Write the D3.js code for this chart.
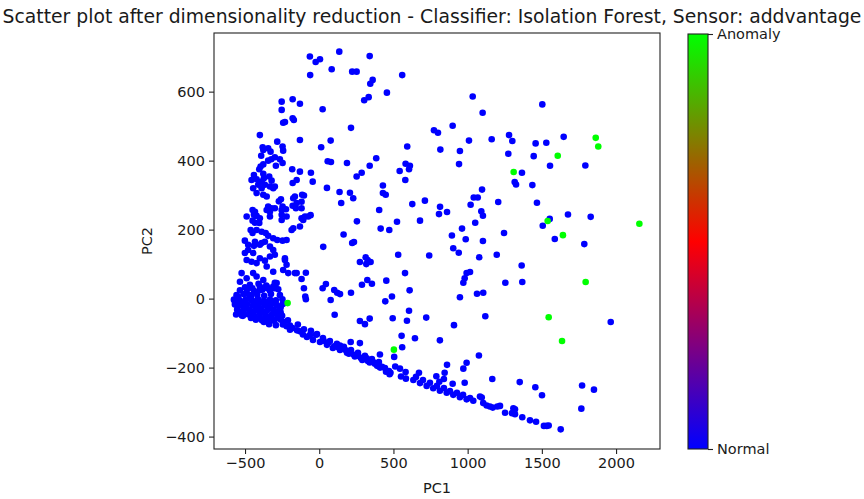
<!DOCTYPE html>
<html>
<head>
<meta charset="utf-8">
<script src="https://cdn.jsdelivr.net/npm/d3@7"></script>
<style>
  body { margin: 0; background: #fff; }
  svg { display: block; }
  text { font-family: "DejaVu Sans", sans-serif; fill: #1a1a1a; }
</style>
</head>
<body>
<svg id="chart" width="864" height="499"></svg>
<script>
// ---- chart text and ticks ----
const titleText = "Scatter plot after dimensionality reduction - Classifier: Isolation Forest, Sensor: addvantage";
const xLabel = "PC1";
const yLabel = "PC2";
const xTicks = [-500, 0, 500, 1000, 1500, 2000];
const yTicks = [-400, -200, 0, 200, 400, 600];
const colorbarTicks = [0, 1];
const colorbarLabels = ["Normal", "Anomaly"];

// ---- PCA projection, normal samples (label 0) ----
const normalSpread = [
  [-63,702],[-24,686],[5,694],[135,716],[340,703],[-61,648],[84,665],[222,658],[252,658],[360,634],
  [344,623],[559,648],[456,597],[303,575],[333,584],[-130,565],[23,549],[1034,586],[1101,539],[214,495],
  [773,488],[800,481],[899,501],[1009,458],[1162,462],[-130,460],[13,439],[77,458],[593,441],[816,432],
  [948,428],[942,390],[57,398],[79,396],[187,393],[384,407],[340,385],[582,391],[611,385],[605,375],
  [542,370],[580,344],[-130,368],[-56,365],[-44,339],[252,354],[286,365],[52,321],[137,309],[148,277],
  [207,307],[229,291],[429,328],[429,306],[448,301],[-103,299],[-119,262],[-119,233],[-96,238],[-58,242],
  [404,257],[627,274],[712,284],[814,266],[807,245],[861,251],[1020,272],[1041,293],[1068,293],[1097,316],
  [1092,253],[1103,240],[1051,220],[1206,280],[254,224],[524,223],[679,226],[414,203],[472,199],[164,186],
  [222,161],[234,164],[27,150],[894,183],[962,203],[987,172],[1103,167],[903,146],
  [532,127],[741,125],[940,133],[1078,120],[1196,127],[274,106],[313,120],[326,112],[346,106],[317,100],
  [578,74],[993,74],[1016,77],[980,59],[971,46],[-90,75],[-119,57],[-103,30],[-94,6],[-90,-2],
  [23,30],[45,42],[101,25],[121,17],[140,13],[214,17],[288,40],[324,54],[355,43],[452,52],
  [609,24],[77,-4],[445,-8],[490,6],[1063,14],[1105,17],[948,4],[104,-47],[274,-65],[308,-74],
  [340,-58],[495,-57],[605,-35],[591,-64],[721,-55],[908,-77],[1119,-51],[555,-108],[645,-115],[813,-121],
  [212,-126],[274,-129],[559,-141],[505,-169],[409,-162],[1076,-165],[861,-192],[845,-215],[789,-225],[971,-203],
  [993,-186],[512,-197],[544,-203],[582,-213],[474,-219],[551,-226],[584,-232],[672,-215],[899,-247],[980,-244],
  [1166,-233],[840,-233],[809,-241],
  [1503,563],[1279,474],[1301,457],[1458,450],[1530,452],[1647,469],[1274,420],[1445,413],[1555,385],[1793,386],
  [1366,365],[1317,338],[1326,331],[1436,329],[1467,278],[1553,231],[1506,211],[1676,244],[1829,237],[1587,173],
  [1786,158],[1245,190],[1364,96],[1254,46],[1368,48],[1964,-68],[1351,-242],[1456,-257],[1501,-280],[1771,-252],
  [1851,-264],[1766,-319]
];

const normalLeft = [
  [-400,474],[-253,547],[-253,571],[-179,578],[-179,523],[-171,518],[-243,510],[-231,512],[-381,439],[-377,431],
  [-391,414],[-344,436],[-328,426],[-283,455],[-247,441],[-243,429],[-377,389],[-344,400],[-323,404],[-299,410],
  [-265,404],[-247,393],[-182,375],[-440,358],[-456,344],[-422,346],[-411,330],[-445,320],[-404,375],[-377,362],
  [-373,349],[-337,354],[-321,342],[-332,325],[-299,325],[-422,306],[-377,301],[-354,296],[-258,288],[-272,282],
  [-179,335],[-152,344],[-115,301],[-164,296],[-130,209],[-108,228],[-74,238],[-179,269],[-157,262],[-224,259],
  [-247,267],[-253,257],[-344,267],[-321,262],[-299,262],[-354,257],[-332,252],[-489,238],[-449,257],[-433,252],
  [-440,243],[-422,240],[-449,226],[-433,220],[-404,219],[-400,233],[-462,199],[-449,190],[-422,199],[-388,194],
  [-361,190],[-344,182],[-310,175],[-283,170],[-247,168],[-220,170],[-186,199],[-501,168],[-479,156],[-440,153],
  [-388,161],[-395,383],[-292,385],[-388,339],[-366,330],[-310,320],[-388,320],[-175,291],[-152,277],[-119,281],
  [-332,238],[-253,243],
  [-433,165],[-400,156],[-366,165],[-332,151],[-310,141],[-479,141],[-501,132],[-445,132],[-489,112],[-456,107],
  [-422,103],[-400,117],[-366,110],[-332,122],[-299,127],[-354,93],[-310,78],[-523,74],[-534,49],[-489,59],
  [-445,74],[-422,64],[-377,54],[-231,112],[-220,98],[-152,74],[-299,46],[-332,25],[-400,25],[-354,35],
  [-467,35],[-489,16],[-456,11],[-568,-9],[-557,-18],[-310,35],[-287,45],[-231,117],[-209,74],[-164,74],
  [-243,83],[-175,204],[-253,228],[-220,238]
];

const normalCluster = [
  [-467,40],[-409,43],[-357,38],[-297,41],
  [-534,24],[-486,27],[-438,22],[-384,26],[-332,23],[-276,27],
  [-557,10],[-510,13],[-467,9],[-418,12],[-371,8],[-325,13],[-265,10],
  [-575,-3],[-534,-6],[-494,-2],[-453,-5],[-413,-1],[-373,-6],[-332,-3],[-292,-5],[-248,-2],
  [-568,-17],[-527,-20],[-486,-16],[-446,-19],[-406,-15],[-366,-20],[-325,-17],[-285,-19],[-245,-16],
  [-553,-32],[-514,-35],[-473,-31],[-433,-34],[-393,-30],[-353,-35],[-312,-32],[-272,-34],
  [-560,-46],[-521,-49],[-480,-45],[-440,-48],[-400,-44],[-359,-49],[-319,-46],[-278,-48],
  [-514,-50],[-460,-56],[-427,-61],[-386,-63],[-346,-60],[-305,-64],[-258,-61],[-211,-63],
  [-373,-68],[-338,-74],[-292,-77],[-245,-75],[-197,-78],[-144,-75],
  [-197,-90],[-150,-92],[-103,-89],[-56,-93],
  [-110,-104],[-63,-106],[-15,-103],[-83,-111],[-42,-120],
  [-545,5],[-500,-10],[-460,2],[-420,-8],[-380,-12],[-340,-10],[-300,-12],
  [-540,-40],[-500,-26],[-460,-40],[-420,-25],[-380,-40],[-340,-24],[-300,-38],[-260,-26],
  [-440,-55],[-400,-55],[-360,-53],[-320,-56],[-280,-57],[-240,-68],[-220,-80],[-180,-85],[-130,-95],
  [-500,33],[-450,30],[-400,35],[-350,30],[-300,30],[-260,-40],[-250,-50]
];

const normalBand = [
  [-22,-105],[5,-126],[25,-114],[52,-134],[72,-123],[92,-143],[119,-131],[140,-149],[140,-136],[166,-140],
  [187,-157],[214,-149],[234,-163],[261,-157],[263,-166],[281,-172],[308,-166],[328,-181],[355,-175],[364,-184],
  [375,-189],[402,-184],[423,-198],[443,-201],[470,-210],
  [30,-122],[60,-128],[100,-138],[130,-142],[180,-150],[200,-160],[240,-168],[290,-178],[320,-173],[340,-185],
  [390,-195],[410,-200],[450,-212],[480,-215],
  [634,-236],[652,-227],[679,-245],[699,-236],[724,-253],[746,-244],[768,-260],[793,-253],[813,-267],[840,-259],
  [859,-273],[881,-268],[903,-279],[928,-273],[948,-286],[969,-279],[993,-292],[1016,-288],[1038,-296],[1083,-284],
  [1095,-287],[1105,-303],[1128,-310],[1150,-313],[1169,-316],[1200,-313],[1218,-311],[1252,-331],[1299,-332],[1308,-318],
  [1319,-321],[1319,-335],[1368,-344],[1420,-353],[1461,-357],[1514,-369],[1533,-369],[1546,-368],[1627,-379]
];

// ---- PCA projection, samples flagged as anomalies (label 1) ----
const anomalyPoints = [
  [-213,-13],[503,-148],[1310,367],[1607,414],[1863,466],[1880,441],
  [1539,225],[1642,184],[2157,217],[1795,48],[1546,-54],[1636,-123]
];

// ---- layout ----
const plot = { left: 214, right: 660, top: 33, bottom: 449 };
const cbar = { left: 688, right: 708, top: 34, bottom: 449 };

const svg = d3.select("#chart");

const x = d3.scaleLinear().domain([-709, 2296]).range([plot.left, plot.right]);
const y = d3.scaleLinear().domain([-436, 770]).range([plot.bottom, plot.top]);

// brg colormap: 0 -> blue, 0.5 -> red, 1 -> green
const cmap = d3.scaleLinear().domain([0, 0.5, 1]).range(["#0000ff", "#ff0000", "#00ff00"]);

const points = [
  ...normalSpread.map(d => ({ pc1: d[0], pc2: d[1], label: 0 })),
  ...normalLeft.map(d => ({ pc1: d[0], pc2: d[1], label: 0 })),
  ...normalCluster.map(d => ({ pc1: d[0], pc2: d[1], label: 0 })),
  ...normalBand.map(d => ({ pc1: d[0], pc2: d[1], label: 0 })),
  ...anomalyPoints.map(d => ({ pc1: d[0], pc2: d[1], label: 1 }))
];

// scatter markers
svg.append("g")
  .selectAll("circle")
  .data(points)
  .join("circle")
  .attr("cx", d => x(d.pc1))
  .attr("cy", d => y(d.pc2))
  .attr("r", 3.3)
  .attr("fill", d => cmap(d.label));

// tick labels use a true minus sign and no thousands separator
const fmt = d => (d < 0 ? "\u2212" + Math.abs(d) : String(d));

const tickFont = "14.5px";
const xAxis = svg.append("g")
  .attr("transform", `translate(0,${plot.bottom})`)
  .call(d3.axisBottom(x).tickValues(xTicks).tickFormat(fmt).tickSize(5).tickPadding(4));
const yAxis = svg.append("g")
  .attr("transform", `translate(${plot.left},0)`)
  .call(d3.axisLeft(y).tickValues(yTicks).tickFormat(fmt).tickSize(5).tickPadding(4));
[xAxis, yAxis].forEach(g => {
  g.select(".domain").remove();
  g.selectAll(".tick line").attr("stroke", "#222").attr("stroke-width", 1.1);
  g.selectAll(".tick text")
    .style("font-family", '"DejaVu Sans", sans-serif')
    .style("font-size", tickFont)
    .attr("fill", "#1a1a1a");
});

// frame
svg.append("rect")
  .attr("x", plot.left).attr("y", plot.top)
  .attr("width", plot.right - plot.left).attr("height", plot.bottom - plot.top)
  .attr("fill", "none").attr("stroke", "#222").attr("stroke-width", 1.1);

// axis labels
svg.append("text")
  .attr("x", (plot.left + plot.right) / 2).attr("y", 493)
  .attr("text-anchor", "middle").style("font-size", tickFont)
  .text(xLabel);
svg.append("text")
  .attr("transform", `translate(152,${(plot.top + plot.bottom) / 2}) rotate(-90)`)
  .attr("text-anchor", "middle").style("font-size", tickFont)
  .text(yLabel);

// title
svg.append("text")
  .attr("x", 432).attr("y", 23)
  .attr("text-anchor", "middle").style("font-size", "18.8px")
  .text(titleText);

// colorbar
const defs = svg.append("defs");
const grad = defs.append("linearGradient")
  .attr("id", "brg").attr("x1", 0).attr("y1", 1).attr("x2", 0).attr("y2", 0);
d3.range(0, 1.0001, 0.05).forEach(t => {
  grad.append("stop").attr("offset", t).attr("stop-color", cmap(t));
});
svg.append("rect")
  .attr("x", cbar.left).attr("y", cbar.top)
  .attr("width", cbar.right - cbar.left).attr("height", cbar.bottom - cbar.top)
  .attr("fill", "url(#brg)").attr("stroke", "#222").attr("stroke-width", 1.1);

const cb = d3.scaleLinear().domain([0, 1]).range([cbar.bottom, cbar.top]);
const cbAxis = svg.append("g")
  .attr("transform", `translate(${cbar.right},0)`)
  .call(d3.axisRight(cb).tickValues(colorbarTicks)
    .tickFormat((d, i) => colorbarLabels[i]).tickSize(5).tickPadding(4));
cbAxis.select(".domain").remove();
cbAxis.selectAll(".tick line").attr("stroke", "#222").attr("stroke-width", 1.1);
cbAxis.selectAll(".tick text")
  .style("font-family", '"DejaVu Sans", sans-serif')
  .style("font-size", tickFont)
  .attr("fill", "#1a1a1a");
</script>
</body>
</html>
